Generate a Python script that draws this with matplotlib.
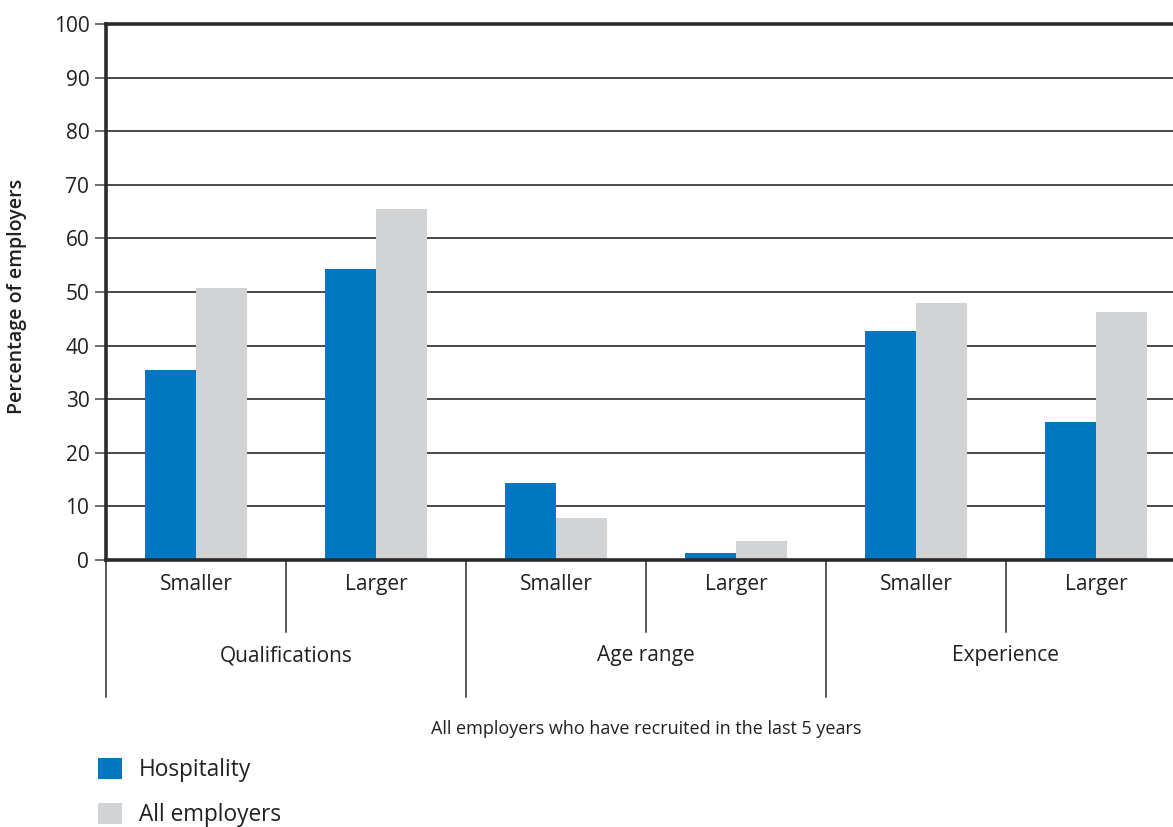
import numpy as np
import matplotlib
matplotlib.use("Agg")
import matplotlib.pyplot as plt
from matplotlib.patches import Patch

# recruitment requirements, % of employers
groups = ["Qualifications", "Age range", "Experience"]
sizes = ["Smaller", "Larger"]
hospitality = [35.5, 54.2, 14.4, 1.3, 42.8, 25.8]
all_employers = [50.8, 65.5, 7.9, 3.5, 47.9, 46.2]

BLUE = "#0077be"
GREY = "#d1d3d4"
INK = "#231f20"

plt.rcParams["font.family"] = ["Open Sans", "DejaVu Sans"]

W, H = 1173, 827
fig = plt.figure(figsize=(W / 100, H / 100), dpi=100)
# plot area runs past the right edge of the page
ax = fig.add_axes([106 / W, 1 - 560 / H, 1080 / W, 536 / H])

x = np.arange(len(hospitality)) + 0.5
bw = 0.285
ax.bar(x - bw / 2, hospitality, bw, color=BLUE, zorder=3, label="Hospitality")
ax.bar(x + bw / 2, all_employers, bw, color=GREY, zorder=3, label="All employers")

ax.set_xlim(0, 6)
ax.set_ylim(0, 100)
ax.set_yticks(range(0, 101, 10))
ax.yaxis.grid(True, color="#3a3a3a", linewidth=1.3, zorder=1)
ax.tick_params(axis="y", length=8, width=1.2, color="#555555", labelsize=15,
               labelcolor=INK, pad=4)
ax.set_xticks([])

ax.spines["right"].set_visible(False)
for side in ["left", "top", "bottom"]:
    ax.spines[side].set_linewidth(2.6)
    ax.spines[side].set_color("#2b2b2b")
ax.spines["bottom"].set_zorder(4)

fig.text(17 / W, 1 - 296 / H, "Percentage of employers", rotation=90,
         ha="center", va="center", fontsize=14, color=INK,
         fontweight="semibold")

# two-level category axis
trans = ax.get_xaxis_transform()
for i in range(7):
    bottom = -0.256 if i % 2 == 0 else -0.134
    ax.plot([i, i], [0, bottom], transform=trans, color="#2b2b2b",
            linewidth=1.1, clip_on=False)
for i, xc in enumerate(x):
    ax.text(xc, -0.046, sizes[i % 2], transform=trans, ha="center",
            va="center", fontsize=15, color=INK)
for g, name in enumerate(groups):
    ax.text(2 * g + 1, -0.179, name, transform=trans, ha="center",
            va="center", fontsize=15, color=INK)
ax.text(3, -0.315, "All employers who have recruited in the last 5 years",
        transform=trans, ha="center", va="center", fontsize=13, color=INK)

handles = [Patch(facecolor=BLUE, label="Hospitality"),
           Patch(facecolor=GREY, label="All employers")]
fig.legend(handles=handles, loc="upper left", bbox_to_anchor=(98 / W, 1 - 758 / H),
           frameon=False, fontsize=16.3, handlelength=1.05, handleheight=1.05,
           handletextpad=0.75, labelspacing=0.92, labelcolor=INK,
           borderpad=0, borderaxespad=0)

fig.savefig("out.png", dpi=100)
